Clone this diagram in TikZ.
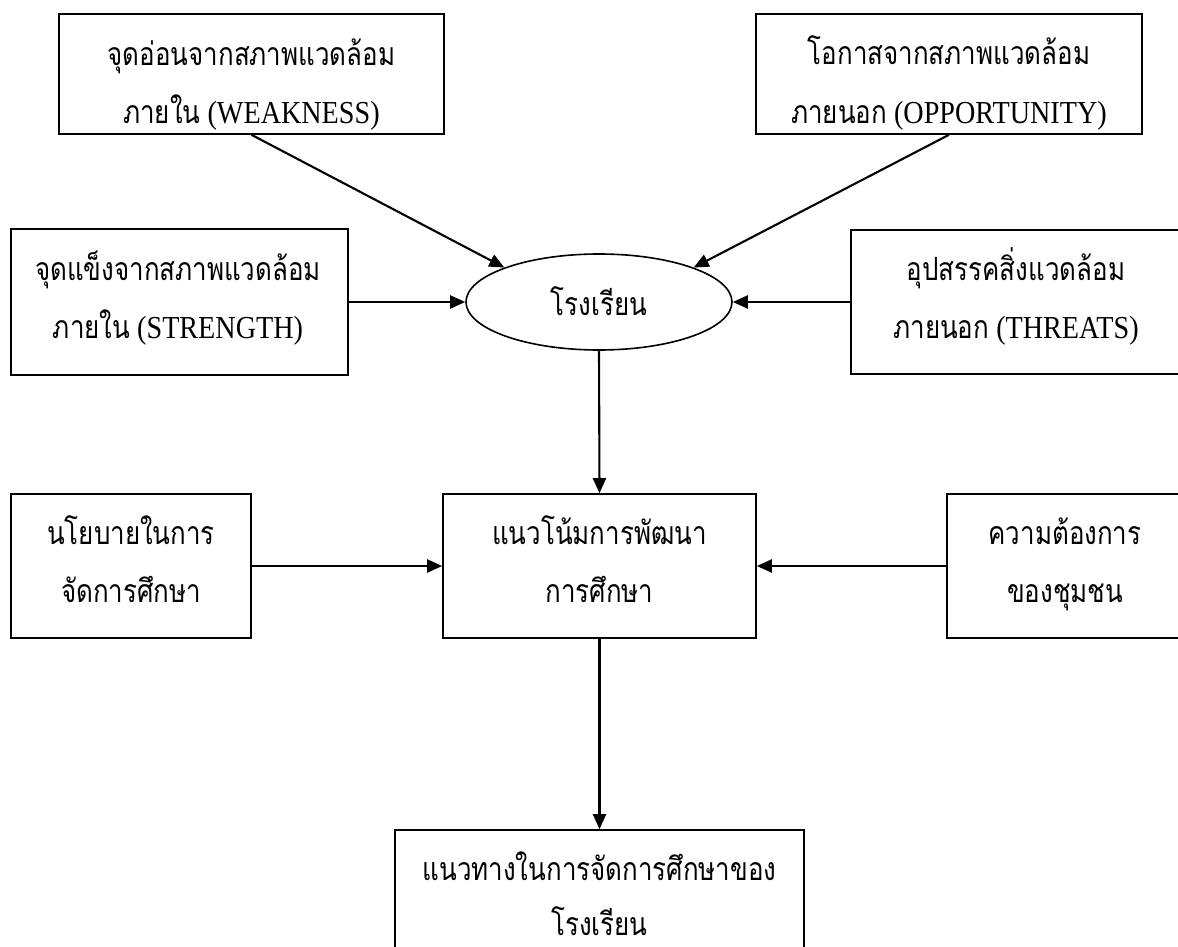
\documentclass[tikz,border=0pt]{standalone}
\usepackage{fontspec}
\setmainfont{Liberation Serif}[FakeStretch=0.88]
\newfontfamily\thai[Script=Thai,FakeStretch=0.81]{Loma}
\usetikzlibrary{arrows.meta,shapes.geometric}
\tikzset{
  box/.style={draw, line width=1.6pt, rectangle, inner sep=0pt},
  oval/.style={draw, line width=1.6pt, ellipse, inner sep=0pt, minimum width=266pt, minimum height=96pt},
  arr/.style={line width=2.1pt, -{Triangle[length=15pt,width=13pt]}},
  txt/.style={anchor=base, inner sep=0pt, font=\fontsize{32}{34}\selectfont},
}
\begin{document}
\begin{tikzpicture}[x=1pt,y=-1pt]
\clip (0,0) rectangle (1178,947);
\fill[white] (0,0) rectangle (1178,947);
% boxes
\node[box, minimum width=385pt, minimum height=120pt] (weak) at (251.5,74) {};
\node[box, minimum width=386pt, minimum height=120pt] (opp) at (949,74) {};
\node[box, minimum width=337pt, minimum height=146pt] (str) at (179.5,302) {};
\node[box, minimum width=333pt, minimum height=144pt] (thr) at (1017.5,302) {};
\node[oval] (school) at (599,302) {};
\node[box, minimum width=240pt, minimum height=144pt] (pol) at (131,566) {};
\node[box, minimum width=313pt, minimum height=144pt] (mid) at (599.5,566) {};
\node[box, minimum width=237pt, minimum height=144pt] (com) at (1065.5,566) {};
\node[box, minimum width=409pt, minimum height=160pt] (fin) at (599.5,910) {};
% texts
\node[txt] (w1) at (251.5,66) {\thai จุดอ่อนจากสภาพแวดล้อม};
\node[txt] (w2) at (251.5,124) {{\thai ภายใน} (WEAKNESS)};
\node[txt] (o1) at (949,65) {\thai โอกาสจากสภาพแวดล้อม};
\node[txt] (o2) at (949,124) {{\thai ภายนอก} (OPPORTUNITY)};
\node[txt] (s1) at (178,280) {\thai จุดแข็งจากสภาพแวดล้อม};
\node[txt] (s2) at (178,338) {{\thai ภายใน} (STRENGTH)};
\node[txt] (t1) at (1016,280) {\thai อุปสรรคสิ่งแวดล้อม};
\node[txt] (t2) at (1016,338) {{\thai ภายนอก} (THREATS)};
\node[txt] (sc) at (599,315) {\thai โรงเรียน};
\node[txt] (p1) at (131,544) {\thai นโยบายในการ};
\node[txt] (p2) at (131,602) {\thai จัดการศึกษา};
\node[txt] (m1) at (599.5,544) {\thai แนวโน้มการพัฒนา};
\node[txt] (m2) at (599.5,602) {\thai การศึกษา};
\node[txt] (c1) at (1065,544) {\thai ความต้องการ};
\node[txt] (c2) at (1065,602) {\thai ของชุมชน};
\node[txt] (f1) at (599.5,880) {\thai แนวทางในการจัดการศึกษาของ};
\node[txt] (f2) at (599.5,935) {\thai โรงเรียน};
% connectors
\draw[arr] (weak.south) -- (school.160);
\draw[arr] (opp.south) -- (school.20);
\draw[arr] (str.east) -- (school.west);
\draw[arr] (thr.west) -- (school.east);
\draw[arr] (school.south) -- (mid.north);
\draw[arr] (pol.east) -- (mid.west);
\draw[arr] (com.west) -- (mid.east);
\draw[arr] (mid.south) -- (fin.north);
\end{tikzpicture}
\end{document}
